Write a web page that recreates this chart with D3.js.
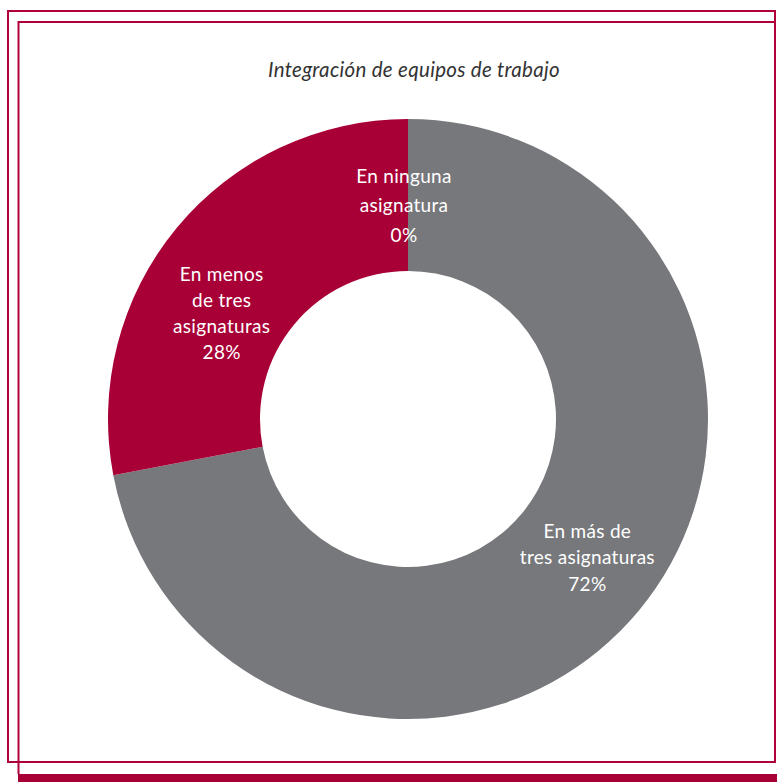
<!DOCTYPE html>
<html>
<head>
<meta charset="utf-8">
<title>Integración de equipos de trabajo</title>
<script src="https://d3js.org/d3.v7.min.js"></script>
<style>
html, body { margin: 0; padding: 0; background: #fff; }
svg { display: block; }
.title { font-family: Lato, sans-serif; font-style: italic; font-size: 20.5px; letter-spacing: 0.3px; fill: #333; }
.label { font-family: Lato, sans-serif; font-size: 19px; letter-spacing: 0.3px; fill: #fff; }
</style>
</head>
<body>
<script>
// data
let categories = ['En ninguna asignatura', 'En más de tres asignaturas', 'En menos de tres asignaturas'];
let values = [0, 72, 28];
let labelLines = [
    ['En ninguna', 'asignatura', '0%'],
    ['En más de', 'tres asignaturas', '72%'],
    ['En menos', 'de tres', 'asignaturas', '28%']
];
let title = 'Integración de equipos de trabajo';

let width = 777, height = 782;
let frameColor = '#b0003a';
let colors = ['#a80036', '#77787b', '#a80036'];

let svg = d3.select('body').append('svg').attr('width', width).attr('height', height);

// double frame
svg.append('rect').attr('x', 8).attr('y', 11).attr('width', 767).attr('height', 751)
    .attr('fill', 'none').attr('stroke', frameColor).attr('stroke-width', 2);
svg.append('path').attr('d', 'M18.5,774 L18.5,22 L775,22')
    .attr('fill', 'none').attr('stroke', frameColor).attr('stroke-width', 2);
svg.append('rect').attr('x', 18).attr('y', 774).attr('width', 759).attr('height', 8).attr('fill', '#a80036');

svg.append('text').attr('class', 'title').attr('x', 414).attr('y', 77)
    .attr('text-anchor', 'middle').text(title);

let cx = 408, cy = 419, rOuter = 300, rInner = 148;
let g = svg.append('g').attr('transform', `translate(${cx},${cy})`);

let pie = d3.pie().sort(null).value(d => d);
let arcs = pie(values);
let arc = d3.arc().innerRadius(rInner).outerRadius(rOuter);

g.selectAll('path.slice').data(arcs).enter().append('path')
    .attr('class', 'slice')
    .attr('d', arc)
    .attr('fill', (d, i) => colors[i]);

// label placement: centroid on mid ring, then small nudges
let labelArc = d3.arc().innerRadius(212).outerRadius(212);
let nudge = [[-4, -1], [16, 4], [-23, 30]];
let lineHeights = [29.5, 26.5, 26];

arcs.forEach((d, i) => {
    let c = labelArc.centroid(d);
    let lines = labelLines[i];
    let lh = lineHeights[i];
    let x = c[0] + nudge[i][0];
    let y = c[1] + nudge[i][1];
    let t = g.append('text').attr('class', 'label').attr('text-anchor', 'middle');
    lines.forEach((s, j) => {
        t.append('tspan').attr('x', x)
            .attr('y', y + (j - (lines.length - 1) / 2) * lh + 6)
            .text(s);
    });
});
</script>
</body>
</html>
